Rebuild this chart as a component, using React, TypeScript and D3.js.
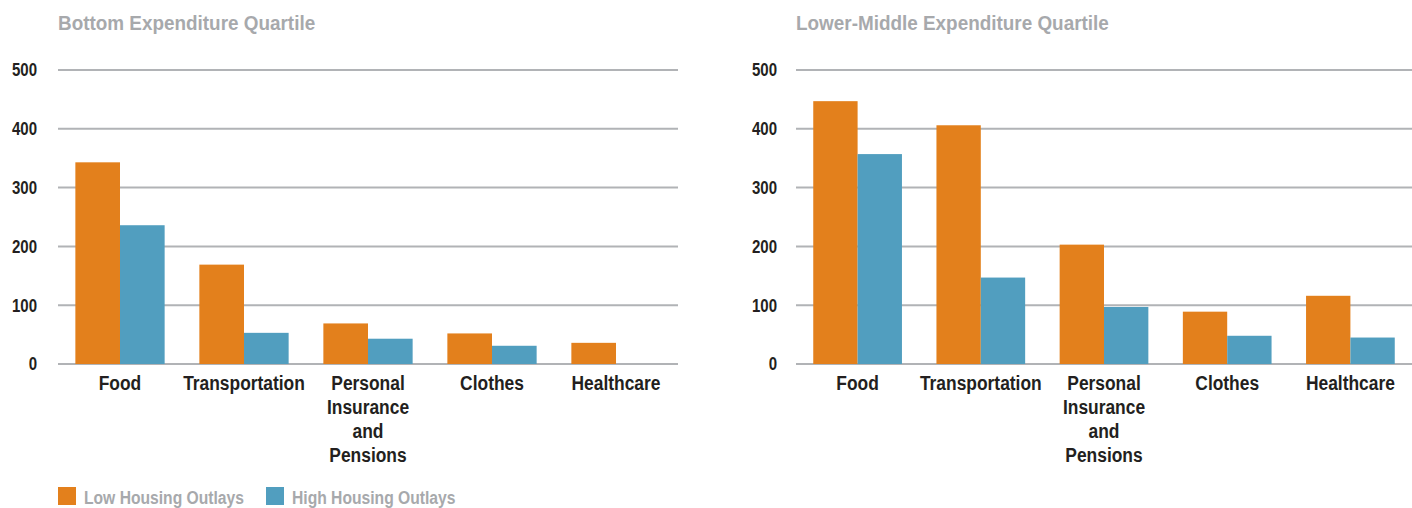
import { useEffect, useRef } from "react"
import * as d3 from "d3"

// data
const categories = ["Food", "Transportation", "Personal Insurance and Pensions", "Clothes", "Healthcare"]
const categoryLines = [["Food"], ["Transportation"], ["Personal", "Insurance", "and", "Pensions"], ["Clothes"], ["Healthcare"]]
const seriesNames = ["Low Housing Outlays", "High Housing Outlays"]
const seriesColors = ["#e3801c", "#519ebf"]
const yTicks = [0, 100, 200, 300, 400, 500]

const bottomLow = [343, 169, 69, 52, 36]
const bottomHigh = [236, 53, 43, 31, null]
const lowerMidLow = [447, 406, 203, 89, 116]
const lowerMidHigh = [357, 147, 97, 48, 45]

const FONT = "'Liberation Sans', Arial, sans-serif"

// condensed look: bold sans squeezed horizontally
function label(g, str, x, y, size, sx, anchor, fill) {
  g.append("text")
    .text(str)
    .attr("transform", "translate(" + x + "," + y + ") scale(" + sx + ",1)")
    .attr("text-anchor", anchor)
    .attr("font-family", FONT)
    .attr("font-weight", "bold")
    .attr("font-size", size + "px")
    .attr("fill", fill)
}

const App = () => {
  const ref = useRef<SVGSVGElement>(null)

  useEffect(() => {
    const svg = d3.select(ref.current)
    svg.selectAll("*").remove()

    const y = d3.scaleLinear().domain([0, 500]).range([364, 70])

    const panels = [
      { title: "Bottom Expenditure Quartile", low: bottomLow, high: bottomHigh, x0: 58, x1: 678, labelX: 37 },
      { title: "Lower-Middle Expenditure Quartile", low: lowerMidLow, high: lowerMidHigh, x0: 796, x1: 1412, labelX: 777 },
    ]

    panels.forEach((p) => {
      const g = svg.append("g")

      label(g, p.title, p.x0, 30, 21, 0.9, "start", "#a7a9ac")

      // gridlines + tick labels
      g.selectAll(".grid")
        .data(yTicks)
        .enter()
        .append("line")
        .attr("x1", p.x0)
        .attr("x2", p.x1)
        .attr("y1", (d) => y(d))
        .attr("y2", (d) => y(d))
        .attr("stroke", "#b1b3b6")
        .attr("stroke-width", 2)

      yTicks.forEach((t) => label(g, String(t), p.labelX, y(t) + 6.3, 17.5, 0.86, "end", "#231f20"))

      const x = d3.scaleBand().domain(categories).range([p.x0, p.x1]).paddingInner(0.28).paddingOuter(0.14)
      const xs = d3.scaleBand().domain(seriesNames).range([0, x.bandwidth()])

      const rows = categories.map((c, i) => ({ c, vals: [p.low[i], p.high[i]] }))

      const groups = g
        .selectAll(".cat")
        .data(rows)
        .enter()
        .append("g")
        .attr("transform", (d) => "translate(" + x(d.c) + ",0)")

      groups
        .selectAll("rect")
        .data((d) => d.vals.map((v, j) => ({ v, s: seriesNames[j], j })).filter((b) => b.v != null))
        .enter()
        .append("rect")
        .attr("x", (b) => xs(b.s))
        .attr("y", (b) => y(b.v))
        .attr("width", xs.bandwidth())
        .attr("height", (b) => y(0) - y(b.v))
        .attr("fill", (b) => seriesColors[b.j])

      // category labels
      categories.forEach((c, i) => {
        const cx = x(c) + x.bandwidth() / 2
        categoryLines[i].forEach((line, k) => {
          label(g, line, cx, 390 + k * 24, 20, 0.87, "middle", "#231f20")
        })
      })
    })

    // legend
    const legendX = [58, 266]
    seriesNames.forEach((name, i) => {
      svg.append("rect")
        .attr("x", legendX[i])
        .attr("y", 487)
        .attr("width", 18)
        .attr("height", 18)
        .attr("fill", seriesColors[i])
      label(svg, name, legendX[i] + 26, 504, 18, 0.87, "start", "#a7a9ac")
    })
  }, [])

  return (
    <svg
      ref={ref}
      width={1412}
      height={508}
      style={{ position: "absolute", left: 0, top: 0, background: "#fff" }}
    />
  )
}

export default App
